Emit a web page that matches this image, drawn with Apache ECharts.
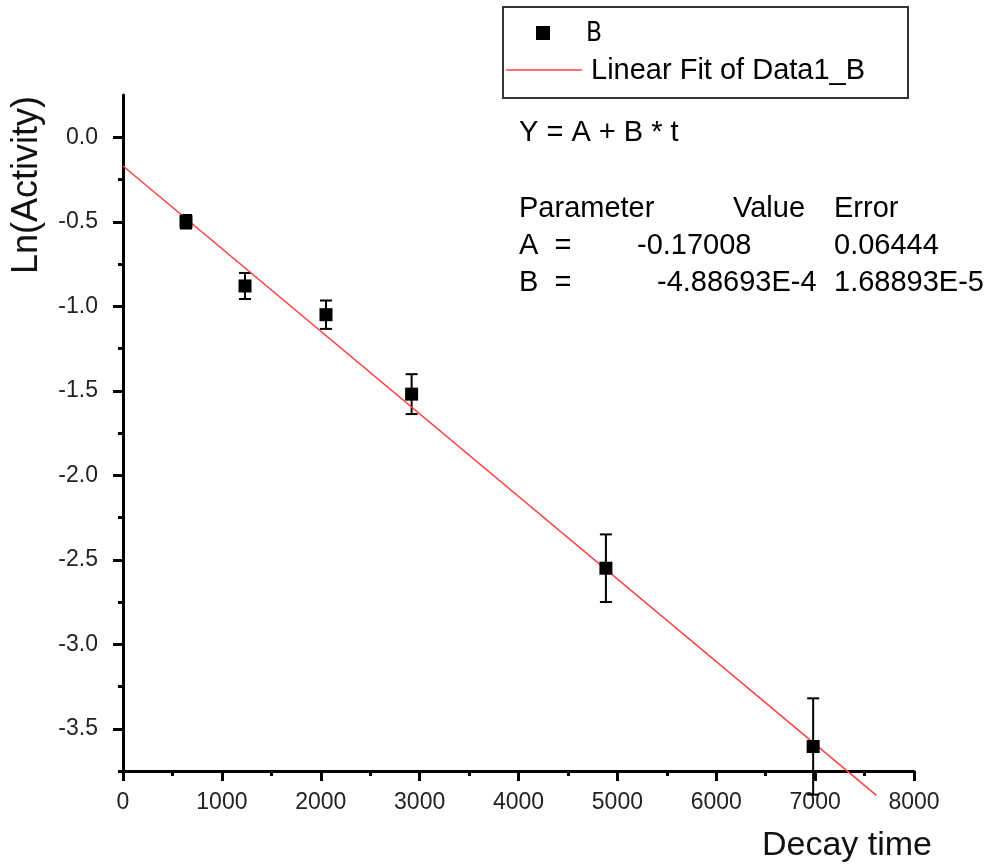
<!DOCTYPE html>
<html>
<head>
<meta charset="utf-8">
<script src="https://cdn.jsdelivr.net/npm/echarts@6/dist/echarts.min.js"></script>
<style>html,body{margin:0;padding:0;background:#fff;}#chart{width:992px;height:867px;}</style>
</head>
<body>
<div id="chart"></div>
<script>
// ---- data ----
var decayTime = [637, 1234, 2053, 2919, 4884, 6980];
var lnActivity = [-0.50, -0.88, -1.05, -1.52, -2.55, -3.605];
var lnError = [0.04, 0.077, 0.084, 0.118, 0.20, 0.285];
var fitTime = [0, 7620];
var fitValue = [-0.170, -3.894];
var yMajorTicks = [0, -0.5, -1.0, -1.5, -2.0, -2.5, -3.0, -3.5];
var yMinorTicks = [-0.25, -0.75, -1.25, -1.75, -2.25, -2.75, -3.25, -3.75];
var fitParams = [
  ['Parameter', 'Value', 'Error'],
  ['A  =', '-0.17008', '0.06444'],
  ['B  =', '-4.88693E-4', '1.68893E-5']
];

var FONT = '"Liberation Sans", Arial, sans-serif';
var pts = decayTime.map(function (t, i) { return [t, lnActivity[i]]; });
var errs = decayTime.map(function (t, i) { return [t, lnActivity[i] - lnError[i], lnActivity[i] + lnError[i]]; });
var fit = fitTime.map(function (t, i) { return [t, fitValue[i]]; });

var chart = echarts.init(document.getElementById('chart'), null, {renderer: 'canvas'});
var statFont = '29px ' + FONT;
function statText(x, y, s) {
  return {type: 'text', x: x, y: y, style: {text: s, font: statFont, fill: '#000', verticalAlign: 'middle'}};
}
var option = {
  backgroundColor: '#fff',
  animation: false,
  grid: {left: 123, right: 78, top: 95, bottom: 96},
  xAxis: {
    type: 'value', min: 0, max: 8000, interval: 1000,
    axisLine: {onZero: false, lineStyle: {color: '#000', width: 3}},
    axisTick: {show: true, inside: false, length: 10, lineStyle: {color: '#000', width: 3}},
    minorTick: {show: true, splitNumber: 2, length: 5, lineStyle: {color: '#000', width: 3}},
    axisLabel: {color: '#222', fontFamily: FONT, fontSize: 23, margin: 20,
      formatter: function (v) { return String(v); }},
    splitLine: {show: false}
  },
  yAxis: [{
    type: 'value', min: -3.75, max: 0.25,
    axisLine: {show: true, onZero: false, lineStyle: {color: '#000', width: 3}},
    axisTick: {show: true, inside: false, length: 10, customValues: yMajorTicks, lineStyle: {color: '#000', width: 3}},
    axisLabel: {color: '#222', fontFamily: FONT, fontSize: 23, margin: 25, customValues: yMajorTicks,
      formatter: function (v) { return (Math.abs(v) < 1e-9 ? 0 : v).toFixed(1); }},
    splitLine: {show: false}
  }, {
    type: 'value', min: -3.75, max: 0.25, position: 'left',
    axisLine: {show: false},
    axisTick: {show: true, inside: false, length: 5, customValues: yMinorTicks, lineStyle: {color: '#000', width: 3}},
    axisLabel: {show: false},
    splitLine: {show: false}
  }],
  series: [{
    name: 'Linear Fit of Data1_B', type: 'line', data: fit, clip: false,
    symbol: 'none', lineStyle: {color: '#ff4040', width: 1.5}, z: 3
  }, {
    name: 'err', type: 'custom', data: errs, clip: false, z: 2,
    renderItem: function (params, api) {
      var x = api.value(0);
      var lo = api.coord([x, api.value(1)]);
      var hi = api.coord([x, api.value(2)]);
      var w = 6;
      var st = {stroke: '#000', lineWidth: 2};
      return {type: 'group', children: [
        {type: 'line', shape: {x1: lo[0], y1: lo[1], x2: hi[0], y2: hi[1]}, style: st},
        {type: 'line', shape: {x1: lo[0] - w, y1: lo[1], x2: lo[0] + w, y2: lo[1]}, style: st},
        {type: 'line', shape: {x1: hi[0] - w, y1: hi[1], x2: hi[0] + w, y2: hi[1]}, style: st}
      ]};
    }
  }, {
    name: 'B', type: 'scatter', data: pts, symbol: 'rect', symbolSize: 13, clip: false,
    itemStyle: {color: '#000', opacity: 1}, z: 4
  }],
  graphic: [
    {type: 'text', x: 27, y: 185, rotation: Math.PI / 2,
      style: {text: 'Ln(Activity)', font: '36px ' + FONT, fill: '#111', align: 'center', verticalAlign: 'middle'}},
    {type: 'text', x: 932, y: 846,
      style: {text: 'Decay time', font: '34px ' + FONT, fill: '#111', align: 'right', verticalAlign: 'middle'}},
    // legend
    {type: 'rect', shape: {x: 503, y: 7, width: 405, height: 91}, style: {fill: '#fff', stroke: '#333', lineWidth: 2}, z: 10},
    {type: 'rect', shape: {x: 536, y: 26, width: 14, height: 14}, style: {fill: '#000'}, z: 11},
    {type: 'text', x: 586, y: 34, z: 11,
      style: {text: 'B', font: '26px "Liberation Sans Narrow", "DejaVu Sans Condensed", sans-serif', fill: '#000', align: 'left', verticalAlign: 'middle'}},
    {type: 'line', shape: {x1: 506, y1: 70, x2: 582, y2: 70}, style: {stroke: '#ff4040', lineWidth: 1.5}, z: 11},
    {type: 'text', x: 591, y: 71, z: 11,
      style: {text: 'Linear Fit of Data1_B', font: '29px ' + FONT, fill: '#000', align: 'left', verticalAlign: 'middle'}},
    // fit results
    statText(519, 133, 'Y = A + B * t'),
    statText(519, 209, fitParams[0][0]),
    statText(733, 209, fitParams[0][1]),
    statText(834, 209, fitParams[0][2]),
    statText(519, 246, fitParams[1][0]),
    statText(637, 246, fitParams[1][1]),
    statText(834, 246, fitParams[1][2]),
    statText(519, 283, fitParams[2][0]),
    statText(657, 283, fitParams[2][1]),
    statText(834, 283, fitParams[2][2])
  ]
};
chart.setOption(option);
</script>
</body>
</html>
